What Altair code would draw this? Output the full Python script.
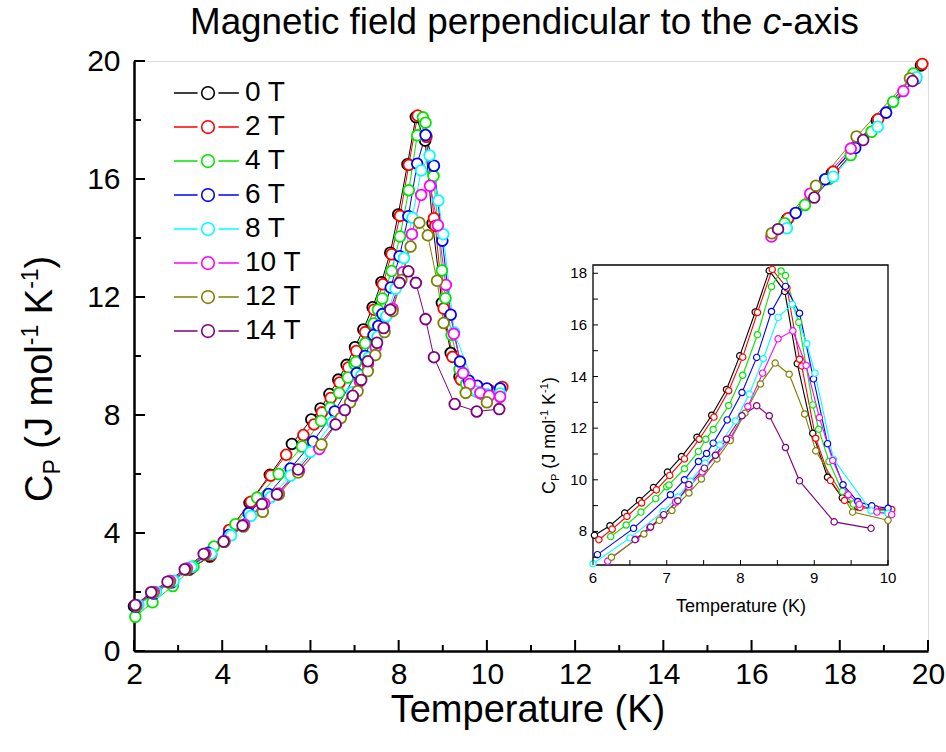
import altair as alt
import pandas as pd

FONT = "Liberation Sans"
NB = "\u00a0"

series = ["0 T", "2 T", "4 T", "6 T", "8 T", "10 T", "12 T", "14 T"]
colors = ["#000000", "#ff0000", "#00e600", "#0000ff", "#00ffff", "#ff00ff", "#808000", "#800080"]

# ---- 0 T ----
T0_lo = [2.00, 2.40, 2.80, 3.25, 3.72, 4.16, 4.62, 5.08, 5.58, 6.02, 6.23, 6.43, 6.63, 6.82, 7.01, 7.20, 7.41, 7.61, 7.81, 7.99, 8.20, 8.39, 8.60, 8.77, 8.98, 9.18, 9.38, 9.59, 9.82, 10.02, 10.32]
C0_lo = [1.52, 1.95, 2.33, 2.76, 3.20, 4.08, 5.02, 5.97, 7.02, 7.85, 8.22, 8.71, 9.20, 9.70, 10.30, 10.90, 11.65, 12.50, 13.50, 14.80, 16.50, 18.10, 17.30, 14.50, 11.80, 10.10, 9.30, 8.95, 8.88, 8.85, 8.92]
T0_hi = [16.80, 17.82, 18.84, 19.84]
C0_hi = [14.62, 16.20, 17.98, 19.85]
# ---- 2 T ----
T2_lo = [2.05, 2.45, 2.85, 3.30, 3.75, 4.16, 4.65, 5.10, 5.45, 5.84, 6.08, 6.26, 6.46, 6.66, 6.86, 7.04, 7.24, 7.44, 7.64, 7.84, 8.03, 8.23, 8.43, 8.63, 8.80, 8.83, 9.02, 9.22, 9.41, 9.62, 9.83, 10.05, 10.35]
C2_lo = [1.55, 1.97, 2.35, 2.80, 3.25, 4.10, 5.06, 5.95, 6.65, 7.32, 7.68, 8.09, 8.58, 9.10, 9.61, 10.17, 10.81, 11.57, 12.43, 13.45, 14.75, 16.48, 18.15, 17.43, 14.67, 14.41, 11.61, 9.97, 9.20, 8.93, 8.88, 8.85, 8.95]
T2_hi = [16.83, 17.85, 18.87, 19.87]
C2_hi = [14.67, 16.25, 18.03, 19.90]
# ---- 4 T ----
T4_lo = [2.03, 2.42, 2.88, 3.35, 3.81, 4.30, 4.79, 5.28, 5.81, 6.24, 6.45, 6.65, 6.85, 7.00, 7.03, 7.24, 7.43, 7.53, 7.63, 7.84, 8.03, 8.23, 8.42, 8.55, 8.61, 8.79, 8.98, 9.06, 9.20, 9.38, 9.53, 9.78, 10.00, 10.30]
C4_lo = [1.16, 1.65, 2.20, 2.86, 3.54, 4.30, 5.20, 6.00, 6.93, 7.80, 8.25, 8.75, 9.27, 9.73, 9.80, 10.43, 11.10, 11.57, 11.95, 12.88, 14.05, 15.62, 17.48, 18.09, 17.91, 16.10, 12.90, 11.96, 10.71, 9.55, 9.06, 8.85, 8.78, 8.80]
T4_hi = [16.75, 17.21, 17.75, 18.25, 18.72, 19.21, 19.67]
C4_hi = [14.50, 15.12, 16.00, 16.81, 17.60, 18.62, 19.58]
# ---- 6 T ----
T6_lo = [2.05, 2.45, 2.85, 3.25, 3.69, 4.15, 4.60, 5.05, 5.55, 6.06, 6.55, 7.05, 7.24, 7.43, 7.54, 7.63, 7.82, 8.02, 8.22, 8.42, 8.61, 8.80, 8.99, 9.18, 9.39, 9.59, 9.78, 10.00, 10.30]
C6_lo = [1.50, 1.95, 2.32, 2.80, 3.33, 3.93, 4.67, 5.32, 6.19, 7.10, 8.12, 9.42, 10.00, 10.71, 11.02, 11.42, 12.32, 13.38, 14.74, 16.52, 17.49, 16.45, 13.91, 11.40, 9.81, 9.16, 8.99, 8.90, 8.90]
T6_hi = [17.00, 17.67, 18.35, 19.05, 19.72]
C6_hi = [14.85, 15.99, 17.05, 18.25, 19.40]
# ---- 8 T ----
T8_lo = [2.10, 2.50, 2.90, 3.30, 3.75, 4.20, 4.65, 5.10, 5.55, 6.00, 6.50, 6.95, 7.15, 7.32, 7.52, 7.72, 7.93, 8.12, 8.31, 8.51, 8.70, 8.90, 9.01, 9.26, 9.77, 10.00, 10.30]
C8_lo = [1.55, 2.00, 2.38, 2.85, 3.30, 3.92, 4.58, 5.22, 5.95, 6.75, 7.75, 8.77, 9.33, 9.94, 10.65, 11.35, 12.28, 13.32, 14.69, 16.29, 16.80, 15.27, 14.13, 10.80, 8.80, 8.70, 8.73]
T8_hi = [16.80, 17.85, 18.86, 19.74]
C8_hi = [14.33, 16.08, 17.77, 19.45]
# ---- 10 T ----
T10_lo = [2.05, 2.45, 2.82, 3.20, 3.62, 4.05, 4.50, 4.95, 5.28, 5.74, 6.20, 6.58, 6.77, 6.95, 7.12, 7.30, 7.48, 7.67, 7.86, 8.10, 8.30, 8.51, 8.71, 8.89, 9.07, 9.25, 9.46, 9.61, 9.85, 10.05, 10.30]
C10_lo = [1.55, 2.00, 2.37, 2.80, 3.30, 3.72, 4.28, 5.00, 5.34, 6.10, 6.85, 7.70, 8.15, 8.60, 9.14, 9.72, 10.30, 10.95, 11.60, 12.84, 14.13, 15.46, 15.77, 14.43, 12.41, 10.75, 9.42, 9.05, 8.75, 8.65, 8.62]
T10_hi = [16.45, 17.33, 18.25, 19.44]
C10_hi = [14.05, 15.50, 17.03, 18.98]
# ---- 12 T ----
T12_lo = [2.05, 2.43, 2.80, 3.18, 3.60, 4.05, 4.48, 4.92, 5.28, 5.72, 6.25, 6.69, 6.90, 7.07, 7.30, 7.47, 7.68, 7.86, 8.06, 8.27, 8.47, 8.66, 8.87, 9.02, 9.52, 10.00]
C12_lo = [1.52, 1.98, 2.33, 2.75, 3.27, 3.70, 4.22, 4.72, 5.30, 6.05, 7.00, 7.90, 8.43, 8.81, 9.49, 10.03, 10.81, 11.52, 12.58, 13.71, 14.52, 14.09, 12.55, 11.12, 8.75, 8.43]
T12_hi = [16.46, 17.46, 18.38, 19.59]
C12_hi = [14.16, 15.77, 17.44, 19.41]
# ---- 14 T ----
T14_lo = [2.03, 2.39, 2.76, 3.15, 3.58, 4.03, 4.46, 4.90, 5.24, 5.72, 6.57, 6.78, 6.96, 7.15, 7.30, 7.51, 7.66, 7.81, 8.02, 8.22, 8.39, 8.61, 8.80, 9.27, 9.77, 10.28]
C14_lo = [1.56, 1.99, 2.35, 2.77, 3.29, 3.71, 4.25, 4.98, 5.31, 6.15, 7.68, 8.17, 8.65, 9.19, 9.82, 10.45, 10.95, 11.57, 12.48, 12.87, 12.48, 11.25, 9.96, 8.37, 8.12, 8.20]
T14_hi = [16.60, 17.42, 18.53, 19.65]
C14_hi = [14.30, 15.37, 17.32, 19.32]

# axis tick values
x_major = [2, 4, 6, 8, 10, 12, 14, 16, 18, 20]
x_minor = [3, 5, 7, 9, 11, 13, 15, 17, 19]
y_major = [0, 4, 8, 12, 16, 20]
y_minor = [2, 6, 10, 14, 18]
main_x_domain = [2, 20]
main_y_domain = [0, 20]

inset_x_domain = [6, 10]
inset_y_domain = [6.7, 18.32]
ix_labels = [6, 7, 8, 9, 10]
ix_ticks = [6, 6.5, 7, 7.5, 8, 8.5, 9, 9.5, 10]
iy_labels = [8, 10, 12, 14, 16, 18]
iy_ticks = [7, 8, 9, 10, 11, 12, 13, 14, 15, 16, 17, 18]

# ---------------- data table ----------------
groups = [
    ("0 T", T0_lo, C0_lo, T0_hi, C0_hi),
    ("2 T", T2_lo, C2_lo, T2_hi, C2_hi),
    ("4 T", T4_lo, C4_lo, T4_hi, C4_hi),
    ("6 T", T6_lo, C6_lo, T6_hi, C6_hi),
    ("8 T", T8_lo, C8_lo, T8_hi, C8_hi),
    ("10 T", T10_lo, C10_lo, T10_hi, C10_hi),
    ("12 T", T12_lo, C12_lo, T12_hi, C12_hi),
    ("14 T", T14_lo, C14_lo, T14_hi, C14_hi),
]
rows = []
for order, (name, tl, cl, th, ch) in enumerate(groups):
    for t, c in zip(tl, cl):
        rows.append({"series": name, "T": t, "C": c, "seg": "lo", "ord": order})
    for t, c in zip(th, ch):
        rows.append({"series": name, "T": t, "C": c, "seg": "hi", "ord": order})
df = pd.DataFrame(rows)

# ---------------- geometry (pixels, plot area) ----------------
W, H = 794, 590
PAD = {"left": 134, "top": 61, "right": 18, "bottom": 101}

color_scale = alt.Scale(domain=series, range=colors)
legend_path = "M-6.2,0L-1.9,0M1.9,0L5.6,0M1.15,0A1.15,1.15,0,1,1,-1.15,0A1.15,1.15,0,1,1,1.15,0Z"
legend = alt.Legend(
    title=None, orient="none", legendX=60, legendY=18,
    symbolType=legend_path, symbolSize=121, symbolStrokeWidth=1.6,
    symbolFillColor="white", symbolOpacity=1,
    labelFont=FONT, labelFontSize=28, labelColor="black", labelOffset=23,
    rowPadding=6, padding=0,
)

xs = alt.Scale(domain=main_x_domain, nice=False, zero=False)
ys = alt.Scale(domain=main_y_domain, nice=False, zero=False)
x_axis = alt.Axis(values=x_major, ticks=False, tickSize=0, labelFontSize=30, labelPadding=8,
                  labelFont=FONT, labelColor="black", labelFlush=False, labelOverlap=False,
                  title=None, grid=False, domainColor="black", domainWidth=2.5)
y_axis = alt.Axis(values=y_major, ticks=False, tickSize=0, labelFontSize=30, labelPadding=14,
                  labelFont=FONT, labelColor="black", labelFlush=False, labelOverlap=False,
                  title=None, grid=False, domainColor="black", domainWidth=2.5)

stroke_enc = alt.Stroke("series:N", scale=color_scale, legend=legend)

base = alt.Chart(df)
main_lines = base.mark_line(strokeWidth=1.0).encode(
    x=alt.X("T:Q", scale=xs, axis=x_axis),
    y=alt.Y("C:Q", scale=ys, axis=y_axis),
    stroke=stroke_enc,
    detail="seg:N",
    order="T:Q",
)
main_points = base.mark_point(shape="circle", filled=True, fill="white", size=115,
                              strokeWidth=1.8, opacity=1).encode(
    x=alt.X("T:Q", scale=xs, axis=x_axis),
    y=alt.Y("C:Q", scale=ys, axis=y_axis),
    stroke=stroke_enc,
)

def xticks(vals, length, width=2):
    return alt.Chart(pd.DataFrame({"v": vals})).mark_rule(color="black", strokeWidth=width).encode(
        x=alt.X("v:Q", scale=xs, axis=x_axis), y=alt.value(H), y2=alt.value(H - length))

def yticks(vals, length, width=2):
    return alt.Chart(pd.DataFrame({"v": vals})).mark_rule(color="black", strokeWidth=width).encode(
        y=alt.Y("v:Q", scale=ys, axis=y_axis), x=alt.value(0), x2=alt.value(length))

main = alt.layer(main_lines, main_points,
                 xticks(x_major, 11), xticks(x_minor, 6),
                 yticks(y_major, 11), yticks(y_minor, 7))

# ---------------- inset ----------------
IX0, IX1 = 593 - 134, 888 - 134
IY0, IY1 = 565 - 61, 265 - 61
ixs = alt.Scale(domain=inset_x_domain, range=[IX0, IX1], nice=False, zero=False)
iys = alt.Scale(domain=inset_y_domain, range=[IY0, IY1], nice=False, zero=False)

box = alt.Chart(pd.DataFrame({"x0": [inset_x_domain[0]], "x1": [inset_x_domain[1]],
                              "y0": [inset_y_domain[0]], "y1": [inset_y_domain[1]]})).mark_rect(
    fill="white", stroke="black", strokeWidth=1.3).encode(
    x=alt.X("x0:Q", scale=ixs, axis=None), x2="x1:Q",
    y=alt.Y("y0:Q", scale=iys, axis=None), y2="y1:Q")

inset_base = alt.Chart(df).transform_filter(
    (alt.datum.T >= 5.99) & (alt.datum.T <= 10.06) & (alt.datum.C >= 6.7))
inset_lines = inset_base.mark_line(strokeWidth=1.1).encode(
    x=alt.X("T:Q", scale=ixs, axis=None), y=alt.Y("C:Q", scale=iys, axis=None),
    stroke=stroke_enc, order="T:Q")
inset_points = inset_base.mark_point(shape="circle", filled=True, fill="white", size=40,
                                     strokeWidth=1.2, opacity=1).encode(
    x=alt.X("T:Q", scale=ixs, axis=None), y=alt.Y("C:Q", scale=iys, axis=None),
    stroke=stroke_enc)

ix_tick_marks = alt.Chart(pd.DataFrame({"v": ix_ticks})).mark_rule(color="black", strokeWidth=1).encode(
    x=alt.X("v:Q", scale=ixs, axis=None), y=alt.value(IY0), y2=alt.value(IY0 - 5))
iy_tick_marks = alt.Chart(pd.DataFrame({"v": iy_ticks})).mark_rule(color="black", strokeWidth=1).encode(
    y=alt.Y("v:Q", scale=iys, axis=None), x=alt.value(IX0), x2=alt.value(IX0 + 5))
ix_text = alt.Chart(pd.DataFrame({"v": ix_labels})).mark_text(
    font=FONT, fontSize=15, baseline="top", align="center", color="black").encode(
    x=alt.X("v:Q", scale=ixs, axis=None), y=alt.value(IY0 + 6), text="v:Q")
iy_text = alt.Chart(pd.DataFrame({"v": iy_labels})).mark_text(
    font=FONT, fontSize=15, baseline="middle", align="right", color="black").encode(
    y=alt.Y("v:Q", scale=iys, axis=None), x=alt.value(IX0 - 6), text="v:Q")

inset = alt.layer(box, inset_lines, inset_points, ix_tick_marks, iy_tick_marks, ix_text, iy_text)

# ---------------- texts (titles) ----------------
ARIAL = {' ': 278, NB: 278, 'M': 833, 'a': 556, 'g': 556, 'n': 556, 'e': 556, 't': 278, 'i': 222,
         'c': 500, 'f': 278, 'l': 222, 'd': 556, 'p': 556, 'r': 333, 'u': 556, 'o': 556, 'h': 556,
         '-': 333, 'x': 500, 's': 500, 'C': 722, 'P': 667, '(': 333, ')': 333, 'J': 500, 'm': 833,
         'K': 667, '1': 556, 'T': 611}

def tw(s, size):
    return sum(ARIAL.get(ch, 556) for ch in s) * size / 1000.0

def piece(s, x, y, size, angle=0, style="normal", align="left"):
    return alt.Chart(pd.DataFrame({"s": [s]})).mark_text(
        font=FONT, fontSize=size, fontStyle=style, angle=angle, align=align,
        baseline="alphabetic", color="black").encode(
        x=alt.value(x), y=alt.value(y), text="s:N")

texts = []
# main title
TS = 36.8
tx, ty = 190 - 134, 34 - 61
for s, st in [("Magnetic field perpendicular to the", "normal"), ("c", "italic"), ("-axis", "normal")]:
    texts.append(piece(s, tx, ty, TS, style=st))
    tx += tw(s, TS)
    if s.endswith("the"):
        tx += tw(" ", TS)

# main x title
texts.append(piece("Temperature (K)", 528 - 134, 722 - 61, 38, align="center"))

# rotated y titles with sub/superscripts (lead = leading gap in space widths)
def ytitle(y_bottom_abs, base_x_abs, big, small, sub_dx, sup_dx):
    parts = [("C", big, 0, 0), ("P", small, sub_dx, 0), ("(J" + NB + "mol", big, 0, 1),
             ("-1", small, -sup_dx, 0), ("K", big, 0, 1), ("-1", small, -sup_dx, 0), (")", big, 0, 0)]
    y = y_bottom_abs - 61
    out = []
    for s, size, dx, lead in parts:
        y -= lead * tw(" ", size)
        out.append(piece(s, base_x_abs - 134 + dx, y, size, angle=270))
        y -= tw(s, size)
    return out

texts += ytitle(502, 52, 38, 23, 8, 14)
texts += ytitle(494, 555, 18, 11, 4, 7)
texts.append(piece("Temperature (K)", 741 - 134, 612 - 61, 18, align="center"))

chart = alt.layer(main, inset, *texts).resolve_scale(
    x="independent", y="independent"
).properties(
    width=W, height=H, padding=PAD, autosize=alt.AutoSizeParams(type="none")
).configure_view(stroke="black", strokeWidth=2.5).configure(font=FONT)

chart.save("out.html", embed_options={"renderer": "svg", "actions": False})
